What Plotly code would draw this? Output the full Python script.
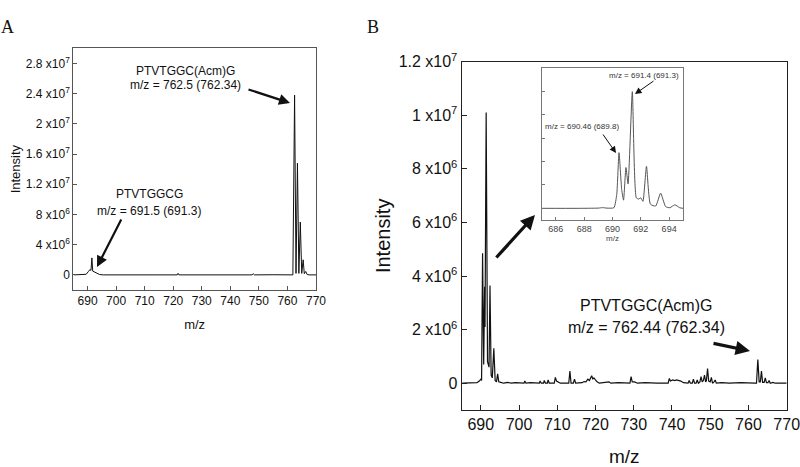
import plotly.graph_objects as go

W, H = 800, 467

# ---------------- data ----------------
# Panel A spectrum (m/z, intensity)
mz_a = [685.2, 688.0, 689.5, 690.3, 690.8, 691.2, 691.5, 691.8, 692.3, 692.8, 693.4, 694.2, 695.5,
        700.0, 705.0, 710.0, 715.0, 721.4, 721.7, 722.0, 728.0, 735.0, 742.0, 747.6, 748.0, 748.4,
        755.0, 761.9, 762.5, 763.0, 763.5, 764.0, 764.5, 765.0, 765.5, 765.9, 766.4, 766.9, 767.6, 770.0]
int_a = [0, 0.02e6, 0.08e6, 0.45e6, 0.7e6, 0.6e6, 2.25e6, 0.5e6, 0.4e6, 0.3e6, 0.15e6, 0.05e6, 0,
         0.02e6, 0, 0.02e6, 0, 0, 0.2e6, 0, 0.02e6, 0, 0.02e6, 0, 0.15e6, 0,
         0.02e6, 0, 2.38e7, 0.2e6, 1.48e7, 0.2e6, 7.0e6, 0.2e6, 2.0e6, 0.15e6, 0.45e6, 0.05e6, 0, 0]

# Panel B spectrum
mz_b = [685.2, 689.0, 689.6, 690.0, 690.2, 690.46, 690.75, 691.0, 691.1, 691.4, 691.75, 692.0,
        692.15, 692.4, 692.7, 693.0, 693.4, 693.75, 694.1, 694.4, 694.7, 695.2, 696.0, 697.0, 698.0,
        699.0, 700.0, 701.3, 701.5, 701.8, 703.0, 704.0, 705.3, 705.5, 705.8, 706.4, 706.6, 706.9,
        707.4, 707.6, 707.9, 709.2, 709.5, 709.8, 710.3, 710.8, 713.0, 713.3, 713.6, 714.2, 714.5,
        714.8, 716.5, 717.0, 717.5, 718.0, 718.4, 718.7, 719.0, 719.3, 719.6, 720.0, 720.4, 721.0,
        722.0, 723.5, 724.0, 726.0, 729.0, 729.3, 729.6, 730.2, 731.0, 733.0, 736.0, 739.0, 739.3,
        739.6, 740.2, 740.7, 741.2, 741.7, 742.3, 743.0, 744.2, 744.5, 744.8, 745.3, 745.6, 745.9,
        746.3, 746.6, 746.9, 747.3, 747.6, 747.9, 748.2, 748.5, 748.8, 749.0, 749.3, 749.6, 750.0,
        750.3, 750.6, 751.0, 751.3, 751.6, 753.0, 755.0, 758.0, 761.7, 762.1, 762.45, 762.8, 763.1,
        763.4, 763.7, 764.1, 764.4, 764.7, 765.1, 765.4, 765.7, 766.4, 767.0, 770.0]
int_b = [0, 0.02e6, 0.08e6, 0.15e6, 0.1e6, 4.85e6, 0.7e6, 3.6e6, 2.1e6, 1.01e7, 0.8e6, 0.6e6,
         0.6e6, 3.65e6, 0.3e6, 0.2e6, 1.3e6, 0.1e6, 0.05e6, 0.35e6, 0.05e6, 0.03e6, 0, 0.03e6, 0,
         0.02e6, 0, 0, 0.08e6, 0, 0.02e6, 0, 0, 0.08e6, 0, 0, 0.1e6, 0,
         0, 0.12e6, 0, 0, 0.22e6, 0.08e6, 0.05e6, 0, 0, 0.45e6, 0, 0, 0.15e6,
         0, 0.02e6, 0.06e6, 0.05e6, 0.15e6, 0.1e6, 0.22e6, 0.28e6, 0.15e6, 0.2e6, 0.12e6, 0.05e6, 0,
         0.03e6, 0.05e6, 0, 0.02e6, 0, 0.25e6, 0.05e6, 0.05e6, 0, 0.02e6, 0, 0, 0.18e6,
         0.08e6, 0.12e6, 0.1e6, 0.12e6, 0.1e6, 0.08e6, 0.02e6, 0, 0.1e6, 0, 0, 0.15e6, 0,
         0, 0.12e6, 0, 0.05e6, 0.25e6, 0.05e6, 0.1e6, 0.3e6, 0.05e6, 0.1e6, 0.55e6, 0.08e6, 0.05e6,
         0.22e6, 0, 0.05e6, 0.12e6, 0, 0.02e6, 0, 0.02e6, 0, 0, 0.88e6, 0.05e6, 0.05e6,
         0.45e6, 0.03e6, 0.03e6, 0.2e6, 0.02e6, 0.02e6, 0.1e6, 0, 0.03e6, 0, 0]

# Inset (zoom of the 685-695 region)
mz_in = [685.0, 687.5, 689.0, 689.3, 689.6, 690.1, 690.3, 690.46, 690.65, 690.78, 690.95, 691.1,
         691.4, 691.68, 691.85, 692.0, 692.15, 692.4, 692.68, 693.05, 693.4, 693.75, 694.05, 694.4,
         694.75, 695.0]
int_in = [0, 0, 0.02e6, 0.06e6, 0.02e6, 0.05e6, 1.2e6, 4.77e6, 1.6e6, 0.7e6, 3.5e6, 2.1e6,
          1.0e7, 0.9e6, 0.8e6, 0.9e6, 0.6e6, 3.6e6, 0.35e6, 0.2e6, 1.3e6, 0.15e6, 0.05e6, 0.3e6,
          0.05e6, 0]

xticks_main = [690, 700, 710, 720, 730, 740, 750, 760, 770]
yticks_a = [0, 4e6, 8e6, 1.2e7, 1.6e7, 2.0e7, 2.4e7, 2.8e7]
ylabels_a = ["0", "4 x10<sup>6</sup>", "8 x10<sup>6</sup>", "1.2 x10<sup>7</sup>",
             "1.6 x10<sup>7</sup>", "2 x10<sup>7</sup>", "2.4 x10<sup>7</sup>", "2.8 x10<sup>7</sup>"]
yticks_b = [0, 2e6, 4e6, 6e6, 8e6, 1e7, 1.2e7]
ylabels_b = ["0", "2 x10<sup>6</sup>", "4 x10<sup>6</sup>", "6 x10<sup>6</sup>",
             "8 x10<sup>6</sup>", "1 x10<sup>7</sup>", "1.2 x10<sup>7</sup>"]
xticks_in = [686, 688, 690, 692, 694]
yticks_in = [0, 2e6, 4e6, 6e6, 8e6, 1e7]

# ---------------- figure ----------------
SANS = "Liberation Sans, Arial, sans-serif"
SERIF = "Liberation Serif, Times New Roman, serif"


def px(x):
    return x / W


def py(y):
    return 1 - y / H


fig = go.Figure()
fig.add_trace(go.Scatter(x=mz_a, y=int_a, mode="lines", line=dict(color="#111", width=1),
                         xaxis="x", yaxis="y", showlegend=False))
fig.add_trace(go.Scatter(x=mz_b, y=int_b, mode="lines", line=dict(color="#111", width=1.2),
                         xaxis="x2", yaxis="y2", showlegend=False))
fig.add_trace(go.Scatter(x=mz_in, y=int_in, mode="lines",
                         line=dict(color="#555", width=1, shape="spline", smoothing=0.5),
                         xaxis="x3", yaxis="y3", showlegend=False))

common = dict(showgrid=False, zeroline=False, showline=True, mirror=True, ticks="inside",
              automargin=False, ticklabeloverflow="allow")

fig.update_layout(
    template="none",
    width=W, height=H,
    margin=dict(l=0, r=0, t=0, b=0, pad=0),
    paper_bgcolor="white", plot_bgcolor="white",
    font=dict(family=SANS, color="#111"),
    xaxis=dict(domain=[px(73.3), px(316)], range=[685, 770], tickvals=xticks_main,
               linecolor="#555", linewidth=1, ticklen=4, tickcolor="#555",
               tickfont=dict(size=12), anchor="y",
               title=dict(text="m/z", font=dict(size=13), standoff=12), **common),
    yaxis=dict(domain=[py(290), py(48.3)], range=[-2e6, 3e7], tickvals=yticks_a, ticktext=ylabels_a,
               linecolor="#555", linewidth=1, ticklen=4, tickcolor="#555",
               tickfont=dict(size=12), anchor="x",
               title=dict(text="Intensity", font=dict(size=13), standoff=2), **common),
    xaxis2=dict(domain=[px(461.7), px(786.7)], range=[685, 770], tickvals=xticks_main,
                linecolor="#222", linewidth=1.3, ticklen=5, tickcolor="#222",
                tickfont=dict(size=16), anchor="y2",
                title=dict(text="m/z", font=dict(size=19), standoff=18), **common),
    yaxis2=dict(domain=[py(410), py(61.7)], range=[-1e6, 1.2e7], tickvals=yticks_b, ticktext=ylabels_b,
                linecolor="#222", linewidth=1.3, ticklen=5, tickcolor="#222",
                tickfont=dict(size=16), anchor="x2",
                title=dict(text="Intensity", font=dict(size=20), standoff=2), **common),
    xaxis3=dict(domain=[px(541.7), px(683.3)], range=[685, 695], tickvals=xticks_in,
                linecolor="#777", linewidth=1, ticklen=3, tickcolor="#777",
                tickfont=dict(size=9, color="#444"), anchor="y3",
                title=dict(text="m/z", font=dict(size=8, color="#444"), standoff=2), **common),
    yaxis3=dict(domain=[py(220), py(68.3)], range=[-1e6, 1.2e7], tickvals=yticks_in, showticklabels=False,
                linecolor="#777", linewidth=1, ticklen=3, tickcolor="#777", anchor="x3", **common),
)

# text annotations
texts = [
    ("A", 7.5, 26.7, 18, SERIF, "#111"),
    ("B", 372.5, 26.7, 18, SERIF, "#111"),
    ("PTVTGGC(Acm)G", 185.7, 71, 12, SANS, "#111"),
    ("m/z = 762.5 (762.34)", 185.7, 85, 12, SANS, "#111"),
    ("PTVTGGCG", 149.3, 194, 12, SANS, "#111"),
    ("m/z = 691.5 (691.3)", 149.3, 211, 12, SANS, "#111"),
    ("PTVTGGC(Acm)G", 645.5, 305, 16, SANS, "#111"),
    ("m/z = 762.44 (762.34)", 646, 327, 16, SANS, "#111"),
    ("m/z = 691.4 (691.3)", 644, 75, 8, SANS, "#333"),
    ("m/z = 690.46 (689.8)", 581.7, 126, 8, SANS, "#333"),
]
for t, x, y, s, fam, col in texts:
    fig.add_annotation(text=t, x=px(x), y=py(y), xref="paper", yref="paper", showarrow=False,
                       xanchor="center", yanchor="middle", font=dict(size=s, family=fam, color=col))

# arrows: (tail x, tail y, head x, head y, width, headsize)
arrows = [
    (247, 89, 290, 103, 2.2, 1.0),
    (122, 218, 97, 267, 2.2, 1.0),
    (495, 259, 535, 215, 3.2, 0.9),
    (712, 343, 750, 351, 3.2, 0.9),
    (655, 80, 635, 94, 1.0, 1.3),
    (602, 133, 616, 153, 1.0, 1.3),
]
for tx, ty, hx, hy, w, hs in arrows:
    fig.add_annotation(x=px(hx), y=py(hy), xref="paper", yref="paper", ax=tx - hx, ay=ty - hy,
                       axref="pixel", ayref="pixel", showarrow=True, arrowhead=2, arrowsize=hs,
                       arrowwidth=w, arrowcolor="#111", text="")

fig.write_html(
    "out.html",
    config={"displayModeBar": False},
    post_script="document.body.style.margin='0';document.body.style.padding='0';"
                "document.body.style.overflow='hidden';",
)
